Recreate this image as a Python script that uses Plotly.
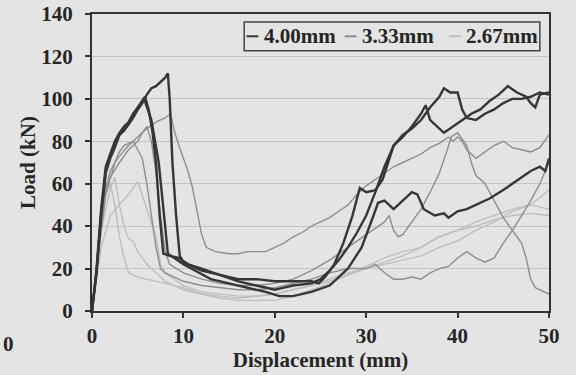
import plotly.graph_objects as go

# 4.00mm specimens
d1_x = [0, 0.5, 1, 1.5, 2, 2.5, 3, 3.5, 4, 4.5, 5, 5.5, 6, 6.5, 7, 7.5, 8, 8.3, 8.5, 8.8, 9.2, 9.6, 10, 11, 12, 14, 16, 18, 20, 22, 24, 24.8, 25.5, 26.5, 27.5, 28.5, 29.3, 30, 31, 31.8, 32.5, 33, 34, 35, 36, 36.5, 37, 37.8, 38.5, 39.5, 40.5, 41.5, 42.5, 43.5, 44.5, 45.5, 46.5, 47.5, 48, 48.5, 49, 50]
d1_y = [0, 18, 45, 65, 72, 77, 83, 85, 88, 91, 95, 98, 102, 105, 106, 108, 110, 112, 100, 70, 45, 26, 23, 21, 19, 17, 15, 15, 14, 14, 14, 13, 16, 22, 32, 45, 58, 56, 57, 62, 72, 78, 82, 87, 93, 97, 90, 87, 84, 87, 90, 93, 95, 99, 102, 106, 103, 101, 98, 96, 102, 103]

d2_x = [0, 0.5, 1, 1.5, 2, 2.5, 3, 3.5, 4, 4.5, 5, 5.5, 5.8, 6.2, 6.6, 7, 7.4, 7.8, 8.5, 9.5, 10.5, 12, 14, 16, 18, 19, 20, 21, 22, 24, 25, 26, 27, 28, 29, 30, 31, 32, 33, 34, 35, 36, 37, 38, 38.5, 39.2, 40, 40.5, 41, 42, 43, 44, 45, 46, 47, 48, 49, 50]
d2_y = [0, 20, 48, 68, 74, 80, 84, 87, 89, 93, 96, 99, 101, 95, 85, 70, 45, 27, 26, 25, 22, 20, 17, 14, 12, 11, 10, 11, 12, 13, 15, 19, 24, 30, 37, 45, 56, 68, 78, 83, 86, 90, 96, 101, 105, 103, 103, 95, 91, 90, 93, 95, 98, 100, 100, 101, 103, 102]

d3_x = [0, 0.5, 1, 1.5, 2, 2.5, 3, 3.5, 4, 4.5, 5, 5.7, 6.5, 7.3, 8, 8.3, 9, 10, 13, 16, 19, 20.5, 22, 24, 26, 28, 29.5, 30.8, 31.3, 32, 33, 34, 35, 35.6, 36.3, 37.5, 38.5, 39, 40, 41, 42.5, 43.5, 45, 46, 47, 48, 49, 49.6, 50]
d3_y = [0, 19, 46, 66, 73, 79, 83, 86, 88, 92, 95, 100, 90, 70, 40, 27, 25, 22, 15, 12, 9, 7, 7, 9, 12, 20, 30, 45, 51, 52, 48, 52, 56, 55, 48, 45, 46, 44, 47, 48, 51, 53, 57, 60, 63, 66, 68, 66, 72]

# 3.33mm specimens
m1_x = [0, 1, 1.5, 2, 2.5, 3, 4, 5, 6, 7, 8, 8.6, 9, 9.5, 10, 10.5, 11, 11.5, 12, 12.5, 13.5, 15, 16, 17, 18, 19, 20, 21, 22, 23, 24, 25, 26, 27, 28, 29, 30, 31, 32, 33, 34, 35, 36, 37, 38, 39, 39.5, 40, 40.5, 41, 42, 43, 44, 45, 46, 47, 48, 49, 50]
m1_y = [0, 40, 58, 66, 70, 73, 78, 82, 86, 89, 91, 93, 85, 78, 72, 66, 58, 47, 36, 30, 28, 27, 27, 28, 28, 28, 30, 32, 35, 37, 40, 42, 44, 47, 50, 55, 59, 62, 65, 68, 70, 72, 74, 77, 79, 82, 80, 82, 80, 76, 72, 75, 78, 80, 77, 76, 75, 77, 83]

m2_x = [0, 1, 1.5, 2, 3, 4, 5, 5.5, 6, 6.5, 7, 7.5, 8, 8.5, 10, 12, 14, 16, 18, 20, 22, 24, 26, 28, 30, 31, 32, 32.5, 33, 33.5, 34, 35, 36, 37, 38, 38.8, 39.3, 40, 40.5, 41, 41.5, 42, 43, 44, 45, 46, 47, 47.5, 48, 48.5, 49, 50]
m2_y = [0, 38, 56, 63, 70, 76, 80, 84, 87, 80, 65, 45, 28, 22, 18, 15, 13, 12, 12, 13, 15, 19, 24, 30, 36, 39, 42, 45, 38, 35, 36, 42, 48, 56, 65, 75, 82, 84, 81, 78, 70, 64, 60, 52, 44, 38, 32, 25, 15, 11, 10, 8]

m3_x = [0, 1, 1.5, 2, 2.5, 3, 3.5, 4, 4.5, 5, 5.5, 6, 6.5, 7, 7.5, 8, 9, 10, 12, 14, 16, 18, 20, 22, 24, 26, 28, 30, 31, 32, 33, 34, 35, 36, 37, 38, 39, 40, 41, 42, 43, 44, 45, 46, 47, 48, 49, 50]
m3_y = [0, 40, 55, 62, 70, 75, 78, 79, 80, 76, 72, 60, 45, 30, 20, 18, 16, 14, 12, 11, 10, 10, 11, 13, 15, 18, 20, 20, 22, 18, 15, 15, 16, 15, 18, 20, 21, 25, 28, 25, 23, 25, 32, 38, 45, 52, 60, 70]

# 2.67mm specimens
l1_x = [0, 1, 2, 3, 4, 5, 5.5, 6, 7, 7.5, 8, 9, 10, 12, 14, 16, 18, 20, 22, 24, 26, 28, 30, 32, 34, 36, 38, 40, 42, 44, 46, 48, 50]
l1_y = [0, 30, 45, 50, 55, 61, 55, 48, 35, 22, 18, 15, 12, 9, 8, 7, 7, 8, 10, 12, 15, 18, 20, 22, 24, 26, 30, 33, 38, 42, 47, 50, 57]

l2_x = [0, 1, 1.5, 2, 2.5, 3, 3.5, 4, 5, 6, 8, 10, 12, 14, 16, 18, 20, 22, 24, 26, 28, 30, 32, 34, 36, 38, 40, 42, 44, 46, 48, 50]
l2_y = [0, 40, 55, 60, 50, 35, 25, 18, 16, 15, 13, 11, 8, 6, 5, 5, 5, 7, 10, 13, 17, 20, 23, 26, 30, 35, 38, 40, 43, 45, 46, 45]

l3_x = [0, 1, 2, 2.5, 3, 3.5, 4, 4.5, 5, 6, 7, 8, 10, 12, 14, 16, 18, 20, 22, 24, 26, 28, 30, 32, 34, 36, 38, 40, 42, 44, 46, 48, 50]
l3_y = [0, 38, 58, 63, 50, 40, 34, 33, 28, 22, 18, 14, 10, 8, 7, 6, 7, 8, 10, 12, 14, 17, 21, 25, 28, 30, 35, 38, 42, 45, 48, 50, 48]

legend_names = ["4.00mm", "3.33mm", "2.67mm"]
dark, mid, light = "#363636", "#8e8e8e", "#bebebe"

series = [
    (d1_x, d1_y, dark, 2.4), (d2_x, d2_y, dark, 2.4), (d3_x, d3_y, dark, 2.4),
    (m1_x, m1_y, mid, 1.4), (m2_x, m2_y, mid, 1.4), (m3_x, m3_y, mid, 1.4),
    (l1_x, l1_y, light, 1.4), (l2_x, l2_y, light, 1.4), (l3_x, l3_y, light, 1.4),
]

fig = go.Figure()
# draw light first so dark lines sit on top
for xs, ys, col, w in reversed(series):
    fig.add_trace(go.Scatter(x=xs, y=ys, mode="lines", line=dict(color=col, width=w),
                             showlegend=False, hoverinfo="skip"))

bg = "#e4e4e4"
font_bold = dict(family="Liberation Serif", size=21, color="#262626", weight="bold")

fig.update_layout(
    width=576, height=375,
    paper_bgcolor=bg, plot_bgcolor=bg,
    margin=dict(l=92, r=27, t=14, b=64),
    font=font_bold,
    showlegend=False,
    xaxis=dict(range=[0, 50], dtick=10, showgrid=False, zeroline=False, automargin=False,
               showline=True, linecolor="#333333", linewidth=2, mirror=True,
               ticks="outside", ticklen=5, tickcolor="#333333", tickwidth=1.5,
               tickfont=font_bold,
               title=dict(text="Displacement (mm)", font=font_bold, standoff=0)),
    yaxis=dict(range=[0, 140], dtick=20, showgrid=True, gridcolor="#c4c4c4", gridwidth=1,
               zeroline=False, automargin=False,
               showline=True, linecolor="#333333", linewidth=2, mirror=True,
               ticks="outside", ticklen=5, tickcolor="#333333", tickwidth=1.5,
               tickfont=font_bold, ticklabelstandoff=8,
               title=dict(text="Load (kN)", font=font_bold, standoff=0)),
)

# legend box drawn by hand (short line samples like the original)
fig.add_shape(type="rect", xref="paper", yref="paper", x0=0.333, x1=0.980, y0=0.876, y1=0.973,
              line=dict(color="#444444", width=1.5), fillcolor=bg, layer="above")
item_x = [0.338, 0.553, 0.781]
for nm, col, x0 in zip(legend_names, [dark, mid, light], item_x):
    fig.add_shape(type="line", xref="paper", yref="paper", x0=x0, x1=x0 + 0.026,
                  y0=0.925, y1=0.925, line=dict(color=col, width=2), layer="above")
    fig.add_annotation(text=nm, xref="paper", yref="paper", x=x0 + 0.034, y=0.925,
                       xanchor="left", yanchor="middle", showarrow=False, font=font_bold)

# tick label of the neighbouring chart at the left edge
fig.add_annotation(text="0", xref="paper", yref="paper", x=-0.2, y=-0.11,
                   xanchor="left", yanchor="middle", showarrow=False, font=font_bold)

# drop the browser's default body margin so the figure sits at the page corner
fig.write_html("out.html", config={"displayModeBar": False},
               post_script="document.body.style.margin='0';document.body.style.background='#e4e4e4';")
